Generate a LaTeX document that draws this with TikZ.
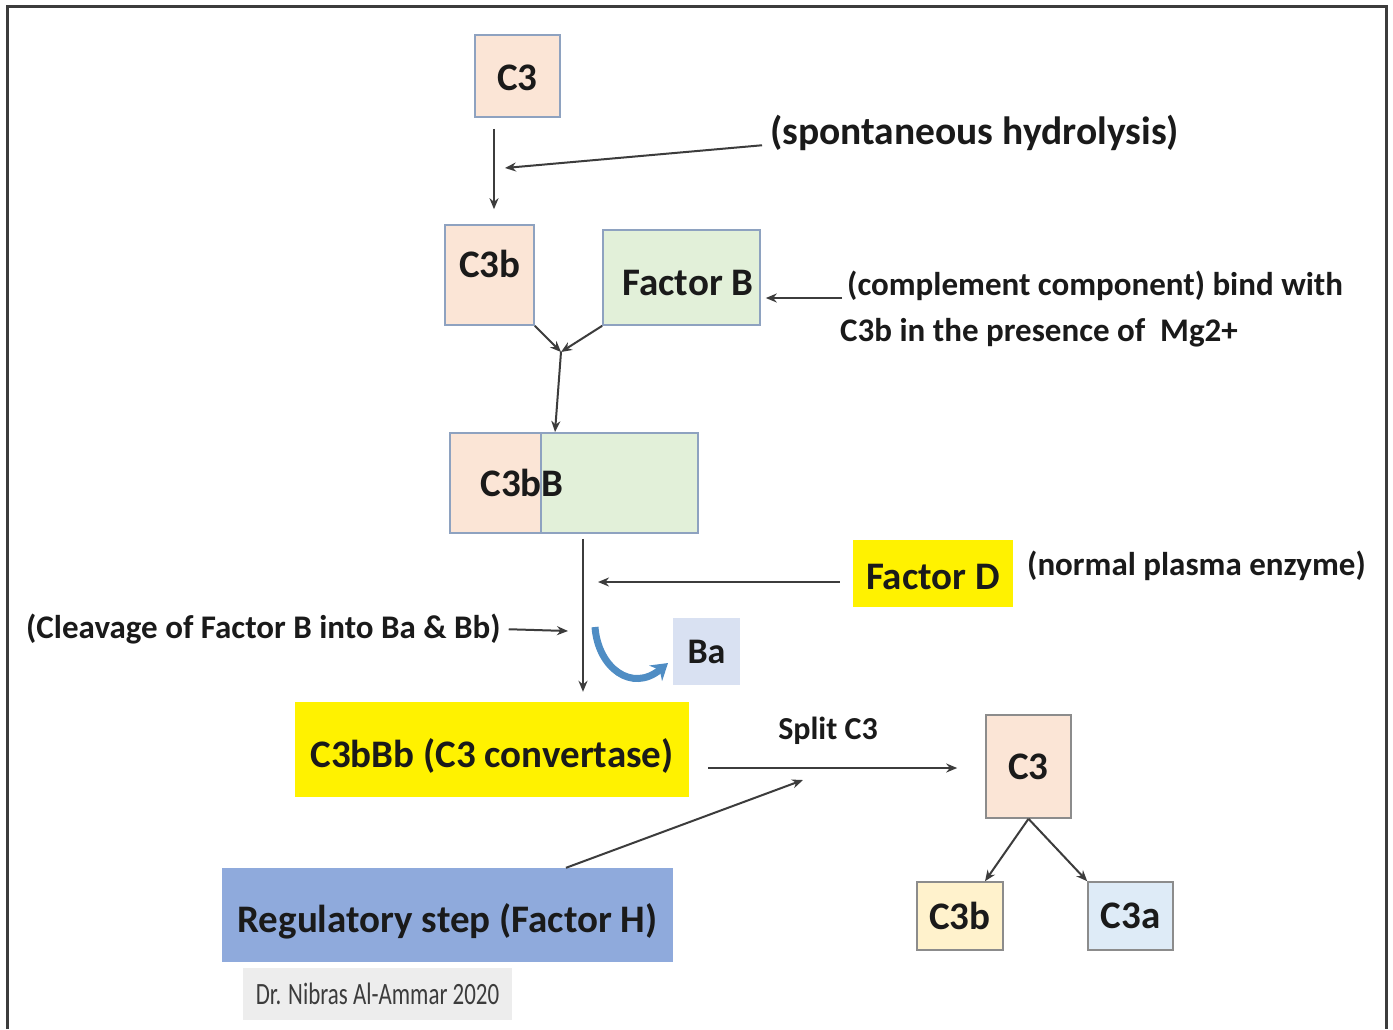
\documentclass[tikz,border=0pt]{standalone}
\usepackage{fontspec}
\setmainfont{Carlito}
\usetikzlibrary{arrows.meta}
\definecolor{peach}{HTML}{FBE5D6}
\definecolor{mint}{HTML}{E2F0D9}
\definecolor{cream}{HTML}{FFF2CC}
\definecolor{sky}{HTML}{DEEBF7}
\definecolor{lilac}{HTML}{D9E1F2}
\definecolor{regblue}{HTML}{8FAADC}
\definecolor{baarc}{HTML}{4F8DC4}
\definecolor{edgeblue}{HTML}{8EA2C0}
\definecolor{edgegray}{HTML}{8C8C8C}
\definecolor{ink}{HTML}{1A1A1A}
\definecolor{linegray}{HTML}{3C3C3C}
\definecolor{stamp}{HTML}{EDEDED}
\newcommand{\lowtext}[1]{\raisebox{-6pt}[\height][\depth]{#1}}

\begin{document}
\begin{tikzpicture}[x=1pt,y=1pt,yscale=-1,xscale=1,
  box/.style={draw=edgeblue,line width=1.6pt,inner sep=0pt},
  big/.style={font=\fontsize{39}{47}\selectfont\bfseries,text=ink,inner sep=0pt},
  note/.style={font=\fontsize{33}{46}\selectfont\bfseries,text=ink,inner sep=0pt,align=left},
  arr/.style={draw=linegray,line width=2pt,-{Stealth[length=11pt,width=9pt]}}]
  \useasboundingbox (0,0) rectangle (1393,1029);
  \fill[white] (0,0) rectangle (1393,1029);
  \draw[line width=3pt,color=ink!85] (7,1029) -- (7,6) -- (1386,6) -- (1386,1029);

  \node[box,fill=peach,minimum width=85pt,minimum height=82pt] (c3top) at (517.5,76) {};
  \node[big] (c3toptext) at (517.5,78) {C3};
  \node[box,fill=peach,minimum width=89pt,minimum height=100pt] (c3b) at (489.5,275) {};
  \node[big] (c3btext) at (490,264) {C3b};
  \node[box,fill=mint,minimum width=157pt,minimum height=95pt] (factB) at (681.5,277.5) {};
  \node[big] (factBtext) at (688,283) {Factor B};
  \node[box,fill=peach,minimum width=91pt,minimum height=100pt] (c3bbL) at (495.5,483) {};
  \node[box,fill=mint,minimum width=157pt,minimum height=100pt] (c3bbR) at (619.5,483) {};
  \node[big] (c3bb) at (522,483) {C3bB};
  \node[big,fill=yellow,minimum width=160pt,minimum height=67pt] (factD) at (933,573.5) {\raisebox{-3pt}[\height][\depth]{Factor D}};
  \node[big,fill=lilac,minimum width=67pt,minimum height=67pt,font=\fontsize{36}{40}\selectfont\bfseries] (ba) at (706.5,651.5) {Ba};
  \node[big,fill=yellow,minimum width=394pt,minimum height=95pt] (conv) at (492,749.5) {\lowtext{C3bBb (C3 convertase)}};
  \node[big,fill=regblue,minimum width=451pt,minimum height=94pt] (reg) at (447.5,915) {\lowtext{Regulatory step (Factor H)}};
  \node[fill=stamp,minimum width=269pt,minimum height=52pt,inner sep=0pt] (stamp) at (377.5,994)
    {\color{ink!85}\scalebox{0.74}[1]{\fontsize{31}{34}\selectfont Dr. Nibras Al-Ammar 2020}};
  \node[box,draw=edgegray,fill=peach,minimum width=85pt,minimum height=103pt,big] (c3r) at (1028.5,766.5) {C3};
  \node[box,draw=edgegray,fill=cream,minimum width=86pt,minimum height=68pt,big] (c3bot) at (960,916) {C3b};
  \node[box,draw=edgegray,fill=sky,minimum width=85pt,minimum height=68pt,big] (c3a) at (1130.5,916) {C3a};

  \node[note,anchor=west,font=\fontsize{39.5}{44}\selectfont\bfseries] (hydro) at (770,133) {(spontaneous hydrolysis)};
  \node[note,anchor=north west] (bindnote) at (840,271) {\hspace*{7pt}(complement component) bind with\\C3b in the presence of~ Mg2+};
  \node[note,anchor=west] (plasma) at (1027,566) {(normal plasma enzyme)};
  \node[note,anchor=west] (cleavnote) at (26,629) {(Cleavage of Factor B into Ba \& Bb)};
  \node[note,font=\fontsize{32}{36}\selectfont\bfseries] (split) at (828,731) {Split C3};

  \coordinate (hyd) at (494,0);
  \coordinate (hydtip) at (505,168);
  \coordinate (fbin) at (842,298);
  \coordinate (join) at (561,352);
  \coordinate (c3bbin) at (555,432);
  \coordinate (cleave) at (583,0);
  \coordinate (fdline) at (598,582);
  \coordinate (cleavtip) at (568,631);
  \coordinate (batail) at (595,627);
  \coordinate (bahead) at (668,663);
  \coordinate (splitline) at (0,768);
  \coordinate (regtip) at (803,780);

  \draw[arr,shorten <=11pt,shorten >=15pt] (c3top.south -| hyd) -- (c3b.north -| hyd);
  \draw[arr,shorten <=8pt] (hydro.base west) -- (hydtip);
  \draw[arr,shorten >=5pt] (fbin) -- (fbin -| factB.east);
  \draw[arr] (c3b.south east) -- (join);
  \draw[arr] (factB.south west) -- (join);
  \draw[arr] (join) -- (c3bbin);
  \draw[arr,shorten <=5pt,shorten >=10pt] (c3bbR.south -| cleave) -- (conv.north -| cleave);
  \draw[arr,shorten <=13pt] (factD.west |- fdline) -- (fdline);
  \draw[arr,shorten <=8pt] (cleavnote.east) -- (cleavtip);
  \draw[draw=baarc,line width=7pt,-{Stealth[length=16pt,width=20pt]}] (batail) .. controls (598,668) and (632,693) .. (bahead);
  \draw[arr,shorten <=19pt,shorten >=28pt] (conv.east |- splitline) -- (c3r.west |- splitline);
  \draw[arr] (reg.north -| 566,0) -- (regtip);
  \draw[arr] (c3r.south) -- ([xshift=25pt]c3bot.north);
  \draw[arr] (c3r.south) -- (c3a.north west);
\end{tikzpicture}
\end{document}
